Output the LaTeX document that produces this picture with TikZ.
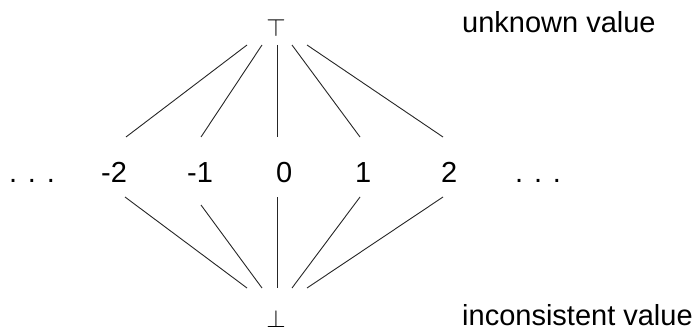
\documentclass[tikz,border=0pt]{standalone}
\usepackage{fontspec}
\setmainfont{Liberation Sans}
\begin{document}
\begin{tikzpicture}[x=1pt,y=-1pt,
  lbl/.style={anchor=base west,inner sep=0pt,font=\fontsize{29}{34}\selectfont},
  sym/.style={inner sep=0pt,font=\fontsize{31}{36}\selectfont},
  edge/.style={line width=0.9pt,black!85}]
  \useasboundingbox (0,0) rectangle (698,329);

  % lattice extremes
  \node[sym] (top) at (276,27.5) {$\top$};
  \node[sym] (bot) at (276,318.5) {$\bot$};
  \node[lbl] (unk) at (462,33) {unknown value};
  \node[lbl] (inc) at (462,325) {inconsistent value};

  % the integers
  \node[lbl] (ldots) at (9,182) {. . .};
  \node[lbl] (m2) at (101,182) {-2};
  \node[lbl] (m1) at (187,182) {-1};
  \node[lbl] (z0) at (276,182) {0};
  \node[lbl] (p1) at (355,182) {1};
  \node[lbl] (p2) at (441,182) {2};
  \node[lbl] (rdots) at (515,182) {. . .};

  % connector ends below top
  \coordinate (ta) at (247,45);
  \coordinate (tb) at (262,45);
  \coordinate (tc) at (277,45);
  \coordinate (td) at (292,45);
  \coordinate (te) at (307,45);
  % connector ends above bottom
  \coordinate (ba) at (247,288);
  \coordinate (bb) at (262,288);
  \coordinate (bc) at (277,288);
  \coordinate (bd) at (292,288);
  \coordinate (be) at (307,288);
  % connector ends above and below the integers
  \coordinate (m2u) at (126,137);  \coordinate (m2d) at (125,197);
  \coordinate (m1u) at (201,137);  \coordinate (m1d) at (201,205);
  \coordinate (z0u) at (277,137);  \coordinate (z0d) at (277,197);
  \coordinate (p1u) at (360,137);  \coordinate (p1d) at (360,197);
  \coordinate (p2u) at (443,137);  \coordinate (p2d) at (443,197);

  \draw[edge] (ta) -- (m2u);
  \draw[edge] (tb) -- (m1u);
  \draw[edge] (tc) -- (z0u);
  \draw[edge] (td) -- (p1u);
  \draw[edge] (te) -- (p2u);
  \draw[edge] (m2d) -- (ba);
  \draw[edge] (m1d) -- (bb);
  \draw[edge] (z0d) -- (bc);
  \draw[edge] (p1d) -- (bd);
  \draw[edge] (p2d) -- (be);
\end{tikzpicture}
\end{document}
